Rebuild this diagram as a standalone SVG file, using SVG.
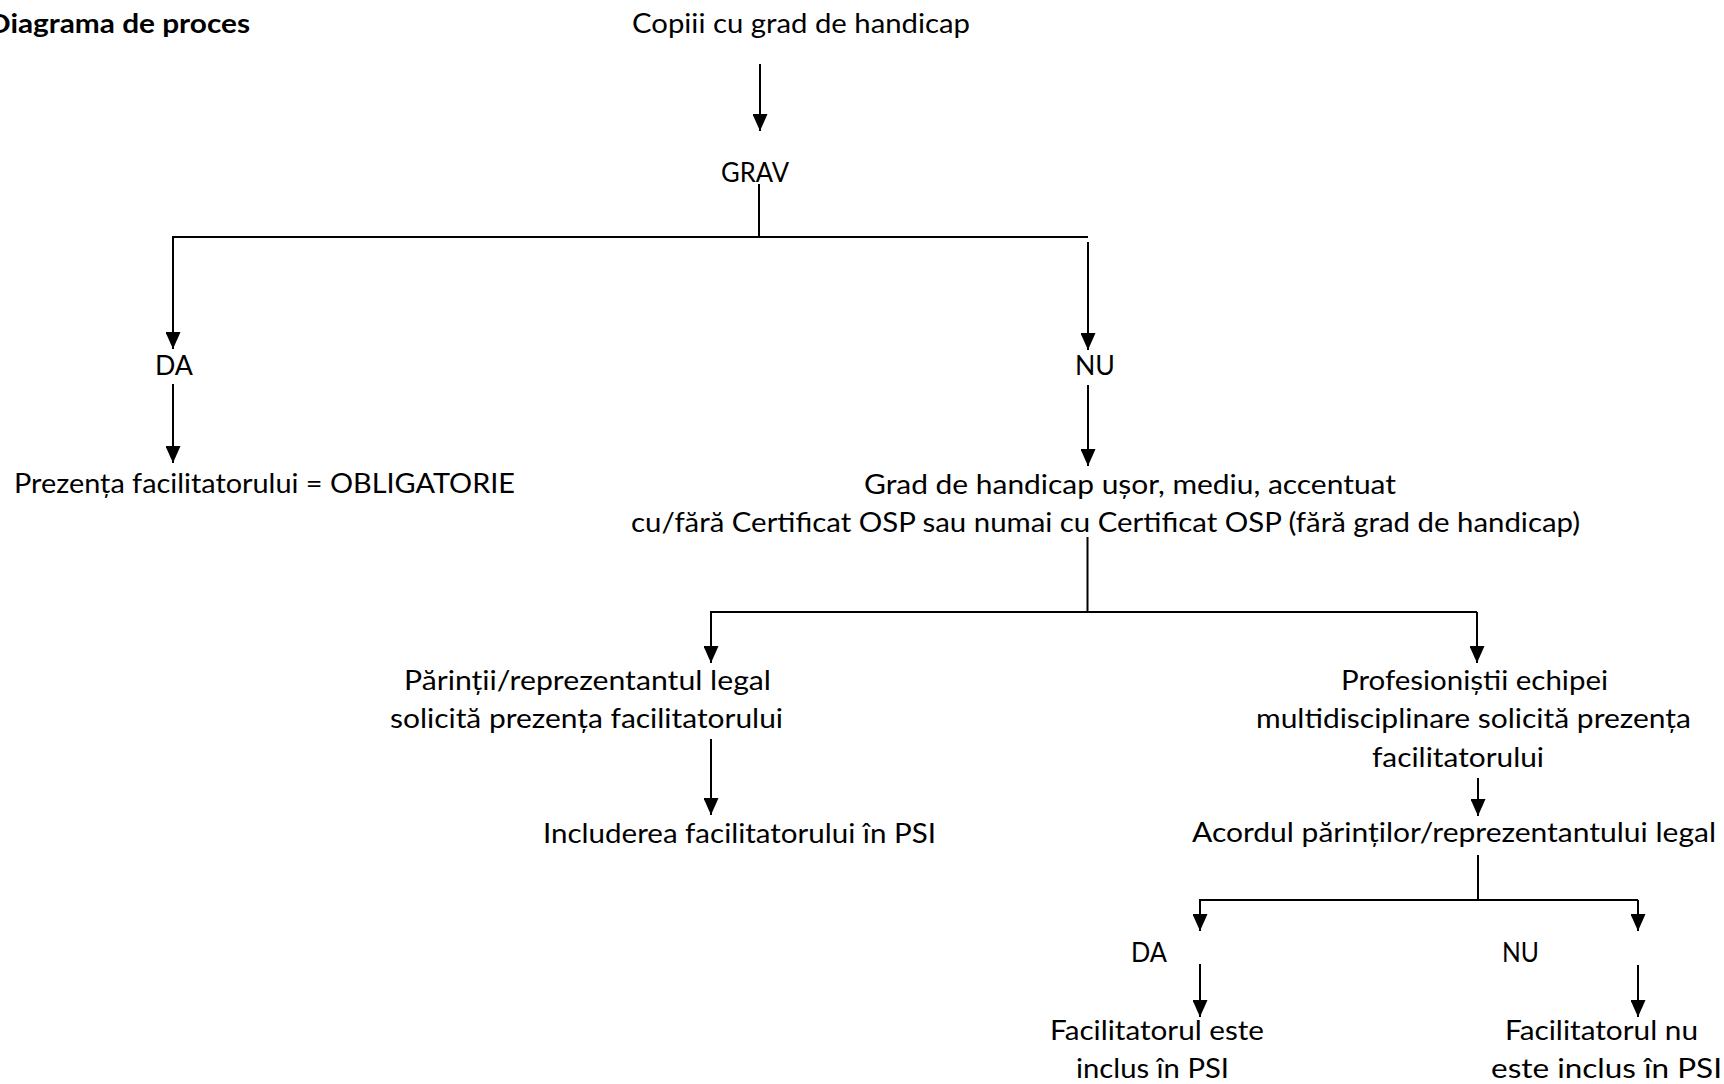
<svg xmlns="http://www.w3.org/2000/svg" width="1724" height="1084" viewBox="0 0 1724 1084">
<style>
text{font-family:Lato,"Open Sans","Liberation Sans",sans-serif;font-size:27px;fill:#000}
.b{font-weight:bold}
.c{fill:none;stroke:#000;stroke-width:2}
.a{marker-end:url(#ah)}
</style>
<defs>
<marker id="ah" viewBox="0 0 17 15" refX="17" refY="7.5" markerWidth="17" markerHeight="15" markerUnits="userSpaceOnUse" orient="auto">
<path d="M0,0 L17,7.5 L0,15 Z" fill="#000"/>
</marker>
</defs>
<rect width="1724" height="1084" fill="#fff"/>
<g id="title"><text class="b" x="-12" y="33" textLength="262" lengthAdjust="spacingAndGlyphs">Diagrama de proces</text></g>
<g id="n-copii"><text x="632" y="33" textLength="338" lengthAdjust="spacingAndGlyphs">Copiii cu grad de handicap</text></g>
<g id="n-grav"><text x="721" y="182" textLength="68" lengthAdjust="spacingAndGlyphs">GRAV</text></g>
<g id="n-da1"><text x="155" y="375" textLength="38" lengthAdjust="spacingAndGlyphs">DA</text></g>
<g id="n-nu1"><text x="1075" y="375" textLength="40" lengthAdjust="spacingAndGlyphs">NU</text></g>
<g id="n-obligatorie"><text x="14" y="493" textLength="501" lengthAdjust="spacingAndGlyphs">Prezența facilitatorului = OBLIGATORIE</text></g>
<g id="n-grad">
<text x="864" y="494" textLength="532" lengthAdjust="spacingAndGlyphs">Grad de handicap ușor, mediu, accentuat</text>
<text x="631" y="532" textLength="949" lengthAdjust="spacingAndGlyphs">cu/fără Certificat OSP sau numai cu Certificat OSP (fără grad de handicap)</text>
</g>
<g id="n-parinti">
<text x="404" y="690" textLength="367" lengthAdjust="spacingAndGlyphs">Părinții/reprezentantul legal</text>
<text x="390" y="728" textLength="393" lengthAdjust="spacingAndGlyphs">solicită prezența facilitatorului</text>
</g>
<g id="n-includerea"><text x="543" y="843" textLength="393" lengthAdjust="spacingAndGlyphs">Includerea facilitatorului în PSI</text></g>
<g id="n-profesionisti">
<text x="1341" y="690" textLength="267" lengthAdjust="spacingAndGlyphs">Profesioniștii echipei</text>
<text x="1256" y="728" textLength="435" lengthAdjust="spacingAndGlyphs">multidisciplinare solicită prezența</text>
<text x="1372" y="767" textLength="172" lengthAdjust="spacingAndGlyphs">facilitatorului</text>
</g>
<g id="n-acordul"><text x="1192" y="842" textLength="524" lengthAdjust="spacingAndGlyphs">Acordul părinților/reprezentantului legal</text></g>
<g id="n-da2"><text x="1131" y="962" textLength="36" lengthAdjust="spacingAndGlyphs">DA</text></g>
<g id="n-nu2"><text x="1502" y="962" textLength="37" lengthAdjust="spacingAndGlyphs">NU</text></g>
<g id="n-inclus">
<text x="1050" y="1040" textLength="214" lengthAdjust="spacingAndGlyphs">Facilitatorul este</text>
<text x="1076" y="1078" textLength="153" lengthAdjust="spacingAndGlyphs">inclus în PSI</text>
</g>
<g id="n-neinclus">
<text x="1505" y="1040" textLength="193" lengthAdjust="spacingAndGlyphs">Facilitatorul nu</text>
<text x="1491" y="1078" textLength="231" lengthAdjust="spacingAndGlyphs">este inclus în PSI</text>
</g>
<g id="connectors">
<path class="c a" d="M760,64 V131"/>
<path class="c" d="M759,184 V237"/>
<path class="c a" d="M1088,237 H173 V349"/>
<path class="c a" d="M1088,242 V350"/>
<path class="c a" d="M173,384 V463"/>
<path class="c a" d="M1088,385 V466"/>
<path class="c" d="M1087.5,537 V612"/>
<path class="c a" d="M1477,612 H711 V663"/>
<path class="c a" d="M1477,612 V663"/>
<path class="c a" d="M711,739 V815"/>
<path class="c a" d="M1478,778 V816"/>
<path class="c" d="M1478,855 V900"/>
<path class="c a" d="M1638,900 H1200 V931"/>
<path class="c a" d="M1638,900 V931"/>
<path class="c a" d="M1200,964 V1017"/>
<path class="c a" d="M1638,965 V1017"/>
</g>
</svg>
